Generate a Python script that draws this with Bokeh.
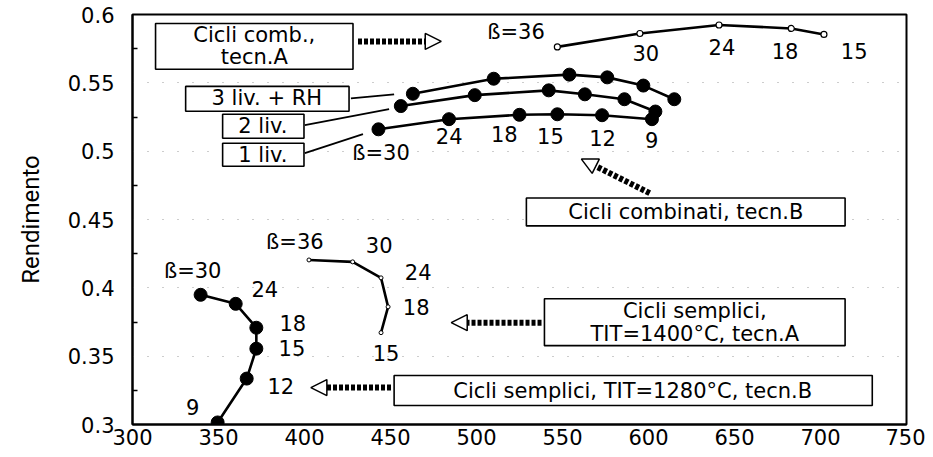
from bokeh.plotting import figure
from bokeh.models import Range1d, Arrow, NormalHead, FixedTicker, CustomJSTickFormatter
from bokeh.embed import file_html
from bokeh.resources import INLINE
from bokeh.core.properties import value

# ---------------- data ----------------
# Combined cycles, tecn.B  (beta = 30, 24, 18, 15, 12, 9)
cb_beta = ["ß=30", "24", "18", "15", "12", "9"]
cb3_x = [463, 510, 554, 576, 597, 615]
cb3_y = [0.542, 0.553, 0.556, 0.554, 0.548, 0.538]
cb2_x = [456, 499, 542, 563, 586, 604]
cb2_y = [0.533, 0.541, 0.5445, 0.5416, 0.538, 0.529]
cb1_x = [443, 484, 525, 547, 573, 602]
cb1_y = [0.516, 0.5234, 0.5266, 0.527, 0.5263, 0.5234]

# Combined cycles, tecn.A  (beta = 36, 30, 24, 18, 15)
ca_beta = ["ß=36", "30", "24", "18", "15"]
ca_x = [547, 595, 641, 683, 702]
ca_y = [0.5763, 0.5861, 0.5923, 0.5898, 0.5854]

# Simple cycles, TIT=1400 C, tecn.A  (beta = 36, 30, 24, 18, 15)
sa_beta = ["ß=36", "30", "24", "18", "15"]
sa_x = [402.6, 428, 444.5, 448.6, 444.5]
sa_y = [0.4204, 0.419, 0.4073, 0.3861, 0.3672]

# Simple cycles, TIT=1280 C, tecn.B  (beta = 30, 24, 18, 15, 12, 9)
sb_beta = ["ß=30", "24", "18", "15", "12", "9"]
sb_x = [339.6, 360, 372, 372, 366.4, 349.5]
sb_y = [0.3949, 0.3883, 0.3708, 0.3555, 0.3336, 0.3015]

x_ticks = [300, 350, 400, 450, 500, 550, 600, 650, 700, 750]
y_ticks = [0.3, 0.35, 0.4, 0.45, 0.5, 0.55, 0.6]
y_minor = [0.325, 0.375, 0.425, 0.475, 0.525, 0.575]

# ---------------- annotation placement (data coords) ----------------
ca_lab_x = [523, 598.4, 642.7, 679.4, 719.6]
ca_lab_y = [0.5869, 0.5715, 0.5759, 0.573, 0.573]
cb_lab_x = [444.5, 484.1, 516.2, 543, 573.3, 601.9]
cb_lab_y = [0.4985, 0.511, 0.5124, 0.511, 0.5095, 0.508]
sa_lab_x = [394.4, 443.4, 466.1, 464.9, 447.4]
sa_lab_y = [0.4336, 0.4314, 0.4117, 0.3861, 0.3526]
sb_lab_x = [335, 376.9, 393.2, 392.7, 386.2, 335]
sb_lab_y = [0.4124, 0.3993, 0.3745, 0.3562, 0.3285, 0.3131]

FONT = "DejaVu Sans"

p = figure(width=925, height=452, output_backend="svg", toolbar_location=None,
           x_range=Range1d(300, 750), y_range=Range1d(0.3, 0.6),
           min_border_left=132, min_border_right=19, min_border_top=14,
           min_border_bottom=28)
p.background_fill_color = "white"
p.border_fill_color = "white"
p.outline_line_color = "black"
p.outline_line_width = 2

p.xgrid.visible = False
p.ygrid.ticker = FixedTicker(ticks=y_ticks[1:-1])
p.ygrid.grid_line_color = "#9a9a9a"
p.ygrid.grid_line_dash = "1 14"
p.ygrid.grid_line_width = 1

p.xaxis.ticker = FixedTicker(ticks=x_ticks)
p.yaxis.ticker = FixedTicker(ticks=y_ticks, minor_ticks=y_minor)
p.yaxis.formatter = CustomJSTickFormatter(code="return tick.toFixed(2).replace(/0$/, '');")
for ax in (p.xaxis[0], p.yaxis[0]):
    ax.axis_line_color = "black"
    ax.axis_line_width = 2
    ax.major_tick_in = 0
    ax.major_tick_out = 0
    ax.major_label_text_font = FONT
    ax.major_label_text_font_size = "21px"
    ax.major_label_text_color = "black"
p.xaxis.minor_tick_line_color = None
p.yaxis.minor_tick_in = 5
p.yaxis.minor_tick_out = 0
p.yaxis.minor_tick_line_width = 1.5
p.yaxis.major_label_standoff = 18
p.xaxis.major_label_standoff = 4
p.yaxis.axis_label = "Rendimento"
p.yaxis.axis_label_text_font = "Roboto"
p.yaxis.axis_label_text_font_style = "normal"
p.yaxis.axis_label_text_font_size = "24px"
p.yaxis.axis_label_text_color = "black"
p.yaxis.axis_label_standoff = 20

LW = 2.6
# combined tecn.B curves
for xs, ys in ((cb3_x, cb3_y), (cb2_x, cb2_y), (cb1_x, cb1_y)):
    p.line(xs, ys, line_color="black", line_width=LW)
    p.scatter(xs, ys, size=13, fill_color="black", line_color="black")
# combined tecn.A
p.line(ca_x, ca_y, line_color="black", line_width=LW)
p.scatter(ca_x, ca_y, size=6, fill_color="white", line_color="black", line_width=1.2)
# simple tecn.A
p.line(sa_x, sa_y, line_color="black", line_width=LW)
p.scatter(sa_x, sa_y, size=4, fill_color="white", line_color="black", line_width=1)
# simple tecn.B
p.line(sb_x, sb_y, line_color="black", line_width=LW)
p.scatter(sb_x, sb_y, size=13, fill_color="black", line_color="black")

# beta labels
for labs, lx, ly in ((ca_beta, ca_lab_x, ca_lab_y), (cb_beta, cb_lab_x, cb_lab_y),
                     (sa_beta, sa_lab_x, sa_lab_y), (sb_beta, sb_lab_x, sb_lab_y)):
    p.text(lx, ly, text=labs, text_font=value(FONT), text_font_size="21px",
           text_align="center", text_baseline="middle", text_color="black")

# boxes: left, right, top, bottom
box_l = [313.4, 330.9, 352.4, 352.4, 529.0, 539.5, 452.1]
box_r = [428.2, 425.9, 399.7, 399.7, 714.3, 714.3, 730.1]
box_t = [0.5934, 0.5474, 0.5270, 0.5058, 0.4657, 0.3920, 0.3358]
box_b = [0.5599, 0.5292, 0.5095, 0.4890, 0.4453, 0.3577, 0.3139]
p.quad(left=box_l, right=box_r, top=box_t, bottom=box_b,
       fill_color="white", line_color="black", line_width=1.6)

box_text = ["Cicli comb.,", "tecn.A", "3 liv. + RH", "2 liv.", "1 liv.",
            "Cicli combinati, tecn.B", "Cicli semplici,", "TIT=1400°C, tecn.A",
            "Cicli semplici, TIT=1280°C, tecn.B"]
box_tx = [370.8, 370.8, 378.1, 375.8, 375.8, 621.7, 626.9, 626.9, 590.8]
box_ty = [0.5847, 0.5686, 0.5387, 0.5182, 0.4971, 0.4555, 0.3832, 0.3664, 0.3248]
p.text(box_tx, box_ty, text=box_text, text_font=value(FONT), text_font_size="21px",
       text_align="center", text_baseline="middle", text_color="black")

# leader lines from the small boxes to the curves
p.segment(x0=[427.0, 400.2, 400.2], y0=[0.5387, 0.5190, 0.4985],
          x1=[452.1, 449.2, 434.0], y1=[0.5416, 0.5307, 0.5124],
          line_color="black", line_width=1.8)

# block arrows
arrows = [(431.1, 0.5803, 479.5, 0.5803),
          (600.7, 0.4693, 561.0, 0.4942),
          (537.8, 0.3745, 485.3, 0.3745),
          (450.3, 0.3270, 403.7, 0.3270)]
for xs_, ys_, xe_, ye_ in arrows:
    p.add_layout(Arrow(x_start=xs_, y_start=ys_, x_end=xe_, y_end=ye_,
                       line_width=6, line_dash="4 2", line_color="black",
                       end=NormalHead(size=16, fill_color="white",
                                      line_color="black", line_width=1.5)))

open("out.html", "w").write(file_html(p, INLINE))
